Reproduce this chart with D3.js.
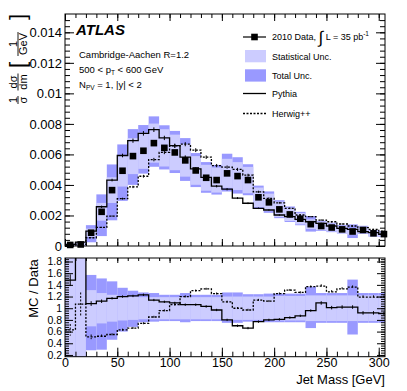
<!DOCTYPE html>
<html>
<head>
<meta charset="utf-8">
<script src="https://cdn.jsdelivr.net/npm/d3@7"></script>
<style>
body{margin:0;background:#fff}
text{font-family:"Liberation Sans",Arial,sans-serif}
</style>
</head>
<body>
<svg width="407" height="391"></svg>
<script>
// bin edges in GeV
const binEdges = [0,10,20,30,40,50,60,70,80,90,100,110,120,130,140,150,160,170,180,190,200,210,220,230,240,250,260,270,280,290,300,310];
// 2010 data
const dataVals = [0.00007,0.0001,0.00087,0.00224,0.00366,0.00493,0.00589,0.00624,0.00674,0.00643,0.00613,0.00561,0.00495,0.00447,0.00432,0.00476,0.00458,0.00432,0.00319,0.00286,0.0024,0.00207,0.00179,0.00143,0.00131,0.00121,0.00109,0.00095,0.00105,0.00083,0.00078];
const pythiaVals = [0.0001,0.00025,0.00098,0.00257,0.00432,0.00593,0.0069,0.00738,0.00762,0.00708,0.00657,0.00582,0.00505,0.0045,0.00392,0.00372,0.00314,0.0028,0.00247,0.00236,0.00203,0.00192,0.00175,0.00159,0.00148,0.00131,0.00116,0.00109,0.00094,0.00087,0.00077];
const herwigVals = [0.00004,0.0001,0.00054,0.00122,0.00196,0.0031,0.00387,0.00457,0.00566,0.00614,0.00656,0.00667,0.00628,0.00582,0.00527,0.00517,0.00502,0.00464,0.00355,0.00312,0.00283,0.00247,0.00203,0.00192,0.0017,0.00159,0.00144,0.00131,0.0012,0.00109,0.00098];
// relative uncertainties
const statUnc = [1.2,1.2,0.31,0.26,0.23,0.21,0.2,0.19,0.19,0.19,0.19,0.19,0.19,0.19,0.19,0.2,0.2,0.2,0.2,0.2,0.21,0.21,0.21,0.22,0.22,0.22,0.22,0.22,0.22,0.22,0.22];
const totUp = [1.2,1.2,0.57,0.51,0.46,0.35,0.3,0.27,0.26,0.23,0.23,0.26,0.23,0.23,0.23,0.27,0.27,0.24,0.24,0.25,0.25,0.25,0.25,0.37,0.26,0.26,0.26,0.49,0.26,0.26,0.26];
const totDn = [1.2,1.2,0.72,0.71,0.54,0.4,0.32,0.24,0.23,0.22,0.22,0.24,0.22,0.22,0.22,0.25,0.25,0.23,0.23,0.24,0.24,0.24,0.24,0.34,0.25,0.25,0.25,0.45,0.25,0.25,0.25];
// MC / data
const pythiaRatio = [1.48,2.5,1.08,1.12,1.17,1.2,1.21,1.23,1.14,1.11,1.09,1.06,1.06,1.03,0.97,0.8,0.7,0.66,0.77,0.8,0.81,0.84,0.87,0.96,1.09,1.01,1.02,1.02,0.92,0.92,0.91];
const herwigRatio = [0.63,1.07,0.51,0.52,0.55,0.63,0.66,0.74,0.85,0.96,1.06,1.2,1.3,1.33,1.25,1.11,1.0,0.97,1.14,1.12,1.25,1.31,1.27,1.37,1.38,1.28,1.33,1.36,1.19,1.19,1.19];
const pythiaErr = [0.1,0.2,0.04,0.03,0.02,0.02,0.02,0.02,0.02,0.02,0.02,0.02,0.02,0.02,0.02,0.02,0.02,0.02,0.02,0.02,0.02,0.02,0.02,0.02,0.03,0.03,0.03,0.03,0.03,0.03,0.03];
const herwigErr = [0.1,0.2,0.04,0.03,0.02,0.02,0.02,0.02,0.02,0.02,0.02,0.02,0.02,0.02,0.02,0.02,0.02,0.02,0.02,0.02,0.02,0.02,0.02,0.02,0.03,0.03,0.03,0.03,0.03,0.03,0.03];
// ticks
const yTicksTop = [0,0.002,0.004,0.006,0.008,0.01,0.012,0.014];
const yLabelsTop = ['0','0.002','0.004','0.006','0.008','0.01','0.012','0.014'];
const yTicksRatio = [0.2,0.4,0.6,0.8,1,1.2,1.4,1.6,1.8];
const yLabelsRatio = ['0.2','0.4','0.6','0.8','1','1.2','1.4','1.6','1.8'];
const xTicks = [0,50,100,150,200,250,300];

const svg = d3.select('svg');
const statColor = '#ccccff', totColor = '#9999ff';

const x = d3.scaleLinear().domain([0,306]).range([65,385]);
const yTop = d3.scaleLinear().domain([0,0.0152]).range([246,14]);
const yRat = d3.scaleLinear().domain([0.17,1.86]).range([356.7,258]);

const defs = svg.append('defs');
defs.append('clipPath').attr('id','clipTop').append('rect')
  .attr('x',65).attr('y',14).attr('width',320).attr('height',232);
defs.append('clipPath').attr('id','clipRat').append('rect')
  .attr('x',65).attr('y',258).attr('width',320).attr('height',98.7);

const bins = dataVals.map((d,i) => ({i, lo:binEdges[i], hi:binEdges[i+1], c:(binEdges[i]+binEdges[i+1])/2}));

//step histogram path
function stepLine(vals, y){
  const pts = vals.map((v,i) => [binEdges[i], v]);
  pts.push([binEdges[vals.length], vals[vals.length-1]]);
  return d3.line().x(d => x(d[0])).y(d => y(d[1])).curve(d3.curveStepAfter)(pts);
}

// ---- top panel
const topG = svg.append('g').attr('clip-path','url(#clipTop)');
topG.selectAll('.tot').data(bins).join('rect')
  .attr('x', d => x(d.lo)).attr('width', d => x(d.hi)-x(d.lo))
  .attr('y', d => yTop(dataVals[d.i]*(1+totUp[d.i])))
  .attr('height', d => yTop(dataVals[d.i]*(1-Math.min(totDn[d.i],1))) - yTop(dataVals[d.i]*(1+totUp[d.i])))
  .attr('fill', totColor);
topG.selectAll('.stat').data(bins).join('rect')
  .attr('x', d => x(d.lo)).attr('width', d => x(d.hi)-x(d.lo))
  .attr('y', d => yTop(dataVals[d.i]*(1+statUnc[d.i])))
  .attr('height', d => yTop(dataVals[d.i]*(1-Math.min(statUnc[d.i],1))) - yTop(dataVals[d.i]*(1+statUnc[d.i])))
  .attr('fill', statColor);

topG.append('path').attr('d', stepLine(pythiaVals, yTop))
  .attr('fill','none').attr('stroke','#000').attr('stroke-width',1.3);
topG.append('path').attr('d', stepLine(herwigVals, yTop))
  .attr('fill','none').attr('stroke','#000').attr('stroke-width',1.3).attr('stroke-dasharray','2,1.5');
topG.selectAll('.perr').data(bins).join('line')
  .attr('x1', d => x(d.c)).attr('x2', d => x(d.c))
  .attr('y1', d => yTop(pythiaVals[d.i]*(1+pythiaErr[d.i])))
  .attr('y2', d => yTop(pythiaVals[d.i]*(1-pythiaErr[d.i])))
  .attr('stroke','#000').attr('stroke-width',1);
topG.selectAll('.herr').data(bins).join('line')
  .attr('x1', d => x(d.c)).attr('x2', d => x(d.c))
  .attr('y1', d => yTop(herwigVals[d.i]*(1+herwigErr[d.i])))
  .attr('y2', d => yTop(herwigVals[d.i]*(1-herwigErr[d.i])))
  .attr('stroke','#000').attr('stroke-width',1);

svg.append('g').selectAll('rect').data(bins.filter(d => d.c < 306)).join('rect')
  .attr('x', d => x(d.c)-3.3).attr('y', d => yTop(dataVals[d.i])-3.3)
  .attr('width',6.6).attr('height',6.6).attr('fill','#000');

// ---- ratio panel
const ratG = svg.append('g').attr('clip-path','url(#clipRat)');
ratG.selectAll('.tot').data(bins).join('rect')
  .attr('x', d => x(d.lo)).attr('width', d => x(d.hi)-x(d.lo))
  .attr('y', d => yRat(1+totUp[d.i]))
  .attr('height', d => yRat(1-totDn[d.i]) - yRat(1+totUp[d.i]))
  .attr('fill', totColor);
ratG.selectAll('.stat').data(bins).join('rect')
  .attr('x', d => x(d.lo)).attr('width', d => x(d.hi)-x(d.lo))
  .attr('y', d => yRat(1+statUnc[d.i]))
  .attr('height', d => yRat(1-statUnc[d.i]) - yRat(1+statUnc[d.i]))
  .attr('fill', statColor);
ratG.append('path').attr('d', stepLine(pythiaRatio, yRat))
  .attr('fill','none').attr('stroke','#000').attr('stroke-width',1.3);
ratG.append('path').attr('d', stepLine(herwigRatio, yRat))
  .attr('fill','none').attr('stroke','#000').attr('stroke-width',1.3).attr('stroke-dasharray','2,1.5');
ratG.selectAll('.perr').data(bins).join('line')
  .attr('x1', d => x(d.c)).attr('x2', d => x(d.c))
  .attr('y1', d => yRat(pythiaRatio[d.i]+pythiaErr[d.i]))
  .attr('y2', d => yRat(pythiaRatio[d.i]-pythiaErr[d.i]))
  .attr('stroke','#000').attr('stroke-width',1);
ratG.selectAll('.herr').data(bins).join('line')
  .attr('x1', d => x(d.c)).attr('x2', d => x(d.c))
  .attr('y1', d => yRat(herwigRatio[d.i]+herwigErr[d.i]))
  .attr('y2', d => yRat(herwigRatio[d.i]-herwigErr[d.i]))
  .attr('stroke','#000').attr('stroke-width',1).attr('stroke-dasharray','2,1.5');

// ---- frames and axes
function frame(y0, y1){
  svg.append('rect').attr('x',65).attr('y',y0).attr('width',320).attr('height',y1-y0)
    .attr('fill','none').attr('stroke','#000').attr('stroke-width',1);
}
frame(14,246);
frame(258,356.7);

function axis(ax, tx, ty, fs){
  const g = svg.append('g').attr('transform',`translate(${tx},${ty})`).call(ax);
  g.select('.domain').remove();
  g.selectAll('text').attr('font-size',fs || 13).attr('font-family','"Liberation Sans",Arial,sans-serif').attr('fill','#000');
  return g;
}
// top panel
axis(d3.axisLeft(yTop).tickValues(yTicksTop).tickFormat((d,i) => yLabelsTop[i]).tickSize(-9).tickPadding(3), 65, 0);
axis(d3.axisLeft(yTop).tickValues(d3.range(0,0.0152,0.0004)).tickSize(-5).tickFormat(''), 65, 0);
axis(d3.axisRight(yTop).tickValues(yTicksTop).tickSize(-9).tickFormat(''), 385, 0);
axis(d3.axisRight(yTop).tickValues(d3.range(0,0.0152,0.0004)).tickSize(-5).tickFormat(''), 385, 0);
axis(d3.axisBottom(x).tickValues(xTicks).tickSize(-7).tickFormat(''), 0, 246);
axis(d3.axisBottom(x).tickValues(d3.range(0,306,10)).tickSize(-4).tickFormat(''), 0, 246);
axis(d3.axisTop(x).tickValues(xTicks).tickSize(-7).tickFormat(''), 0, 14);
axis(d3.axisTop(x).tickValues(d3.range(0,306,10)).tickSize(-4).tickFormat(''), 0, 14);
// ratio panel
axis(d3.axisLeft(yRat).tickValues(yTicksRatio).tickFormat((d,i) => yLabelsRatio[i]).tickSize(-8).tickPadding(3), 65, 0, 10.5);
axis(d3.axisLeft(yRat).tickValues(d3.range(0.2,1.86,0.04)).tickSize(-4).tickFormat(''), 65, 0);
axis(d3.axisRight(yRat).tickValues(yTicksRatio).tickSize(-8).tickFormat(''), 385, 0);
axis(d3.axisRight(yRat).tickValues(d3.range(0.2,1.86,0.04)).tickSize(-4).tickFormat(''), 385, 0);
axis(d3.axisBottom(x).tickValues(xTicks).tickSize(-9).tickPadding(1), 0, 356.7, 12.5);
axis(d3.axisBottom(x).tickValues(d3.range(0,306,10)).tickSize(-5).tickFormat(''), 0, 356.7);
axis(d3.axisTop(x).tickValues(xTicks).tickSize(-5).tickFormat(''), 0, 258);
axis(d3.axisTop(x).tickValues(d3.range(0,306,10)).tickSize(-3).tickFormat(''), 0, 258);

// axis titles
svg.append('text').attr('x',385).attr('y',384).attr('text-anchor','end').attr('font-size',13).text('Jet Mass [GeV]');
svg.append('text').attr('transform','translate(38,288.5) rotate(-90)').attr('text-anchor','middle')
  .attr('font-size',13).text('MC / Data');

// 1/sigma dsigma/dm [1/GeV]
const yl = svg.append('g').attr('transform','translate(18,0) rotate(-90)').attr('font-size',11);
function frac(num, den, c, w){
  yl.append('text').attr('x',-c).attr('y',-1.5).attr('text-anchor','middle').text(num);
  yl.append('line').attr('x1',-c-w/2).attr('x2',-c+w/2).attr('y1',0).attr('y2',0).attr('stroke','#000').attr('stroke-width',0.9);
  yl.append('text').attr('x',-c).attr('y',9).attr('text-anchor','middle').text(den);
}
frac('1','σ',100,8);
frac('dσ','dm',82,17);
frac('1','GeV',44,24);
yl.append('text').attr('x',-65).attr('y',6.5).attr('text-anchor','middle').attr('font-size',22).text('[');
yl.append('text').attr('x',-17).attr('y',6.5).attr('text-anchor','middle').attr('font-size',22).text(']');

// labels
svg.append('text').attr('x',76).attr('y',35).attr('font-size',15).attr('font-weight','bold')
  .attr('font-style','italic').text('ATLAS');
svg.append('text').attr('x',79).attr('y',58).attr('font-size',9.5).text('Cambridge-Aachen R=1.2');
const t2 = svg.append('text').attr('x',79).attr('y',73).attr('font-size',9.5);
t2.append('tspan').text('500 < p');
t2.append('tspan').attr('font-size',6.5).attr('dy',2).text('T');
t2.append('tspan').attr('dy',-2).text(' < 600 GeV');
const t3 = svg.append('text').attr('x',79).attr('y',88).attr('font-size',9.5);
t3.append('tspan').text('N');
t3.append('tspan').attr('font-size',6.5).attr('dy',2).text('PV');
t3.append('tspan').attr('dy',-2).text(' = 1, |y| < 2');

// legend
const lg = svg.append('g').attr('font-size',9);
lg.append('line').attr('x1',243).attr('x2',266).attr('y1',37).attr('y2',37).attr('stroke','#000').attr('stroke-width',1.2);
lg.append('rect').attr('x',251.2).attr('y',33.7).attr('width',6.6).attr('height',6.6).attr('fill','#000');
const lt = lg.append('text').attr('x',272).attr('y',39.5);
lt.append('tspan').text('2010 Data, ');
lt.append('tspan').attr('font-size',17).attr('dy',3).text('∫');
lt.append('tspan').attr('dy',-3).text(' L = 35 pb');
lt.append('tspan').attr('font-size',6.5).attr('dy',-4).text('-1');
lg.append('rect').attr('x',245).attr('y',50).attr('width',21).attr('height',12.3).attr('fill',statColor);
lg.append('text').attr('x',272).attr('y',60).text('Statistical Unc.');
lg.append('rect').attr('x',245).attr('y',69.3).attr('width',21).attr('height',12.3).attr('fill',totColor);
lg.append('text').attr('x',272).attr('y',79).text('Total Unc.');
lg.append('line').attr('x1',243).attr('x2',266).attr('y1',93.5).attr('y2',93.5).attr('stroke','#000').attr('stroke-width',1.3);
lg.append('text').attr('x',272).attr('y',97).text('Pythia');
lg.append('line').attr('x1',243).attr('x2',266).attr('y1',113.5).attr('y2',113.5).attr('stroke','#000')
  .attr('stroke-width',1.3).attr('stroke-dasharray','2,1.5');
lg.append('text').attr('x',272).attr('y',116.5).text('Herwig++');
</script>
</body>
</html>
